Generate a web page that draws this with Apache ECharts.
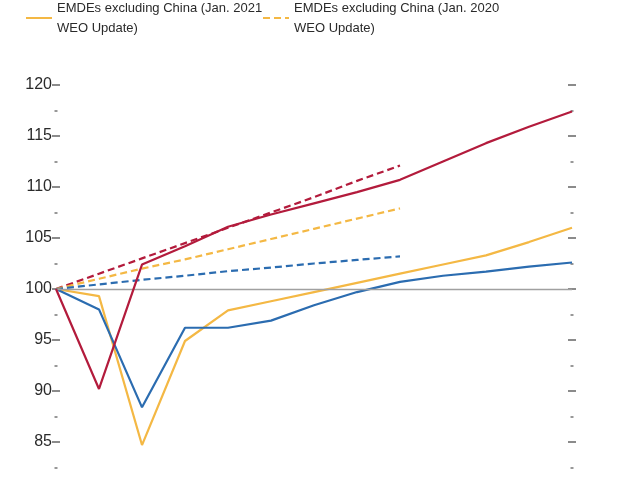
<!DOCTYPE html>
<html>
<head>
<meta charset="utf-8">
<script src="https://cdn.jsdelivr.net/npm/echarts@6/dist/echarts.min.js"></script>
<style>
html,body{margin:0;padding:0;background:#fff;}
#chart{width:620px;height:485px;}
</style>
</head>
<body>
<div id="chart"></div>
<script>
var categories = ['2019:Q4','2020:Q1','2020:Q2','2020:Q3','2020:Q4','2021:Q1','2021:Q2','2021:Q3','2021:Q4','2022:Q1','2022:Q2','2022:Q3','2022:Q4'];
var chinaJan2021 = [100, 90.2, 102.4, 104.2, 106.1, 107.3, 108.4, 109.5, 110.7, 112.5, 114.3, 115.9, 117.4];
var chinaJan2020 = [100, 101.5, 103.0, 104.5, 106.0, 107.5, 109.0, 110.6, 112.1, null, null, null, null];
var emdesJan2021 = [100, 99.3, 84.7, 94.9, 97.9, 98.8, 99.7, 100.6, 101.5, 102.4, 103.3, 104.6, 106.0];
var emdesJan2020 = [100, 101.0, 102.0, 102.9, 103.9, 104.9, 105.9, 106.9, 107.9, null, null, null, null];
var worldJan2021 = [100, 98.0, 88.4, 96.2, 96.2, 96.9, 98.4, 99.7, 100.7, 101.3, 101.7, 102.2, 102.6];
var worldJan2020 = [100, 100.45, 100.9, 101.3, 101.75, 102.1, 102.5, 102.85, 103.2, null, null, null, null];
var yTicks = {min: 80, max: 120, interval: 5};
var legendNames = ['EMDEs excluding China (Jan. 2021\nWEO Update)', 'EMDEs excluding China (Jan. 2020\nWEO Update)'];

var RED = '#b31b3c', BLUE = '#2b6cb0', YELLOW = '#f4b844';
var FONT = "'Liberation Sans', Arial, sans-serif";

function yAx(pos, inside, labels) {
  return {
    type: 'value', position: pos, min: yTicks.min, max: yTicks.max, interval: yTicks.interval,
    axisLine: {show: false},
    splitLine: {show: false},
    axisTick: {show: true, inside: inside, length: 4, lineStyle: {color: '#666', width: 1.5}},
    minorTick: {show: true, splitNumber: 2, length: 1.5, lineStyle: {color: '#777', width: 1.5}},
    minorSplitLine: {show: false},
    axisLabel: {show: labels, color: '#2a2a2a', fontSize: 16, fontFamily: FONT, margin: 4}
  };
}

function line(name, data, color, dashed, z) {
  return {
    name: name, type: 'line', data: data, yAxisIndex: 0, symbol: 'none', showSymbol: false, z: z,
    connectNulls: false,
    lineStyle: {color: color, width: 2.2, type: dashed ? [7, 4] : 'solid'},
    itemStyle: {color: color}
  };
}

var chart = echarts.init(document.getElementById('chart'));
var s = [
  line('China (Jan. 2020 WEO Update)', chinaJan2020, RED, true, 3),
  line(legendNames[1], emdesJan2020, YELLOW, true, 3),
  line('World (Jan. 2020 WEO Update)', worldJan2020, BLUE, true, 3),
  line(legendNames[0], emdesJan2021, YELLOW, false, 4),
  line('World (Jan. 2021 WEO Update)', worldJan2021, BLUE, false, 4),
  line('China (Jan. 2021 WEO Update)', chinaJan2021, RED, false, 5)
];
s[0].markLine = {
  silent: true, symbol: 'none', label: {show: false},
  lineStyle: {color: '#a0a0a0', width: 1.3, type: 'solid'},
  data: [{yAxis: 100}]
};
var legendBase = {top: -2, itemWidth: 26, itemHeight: 12, padding: 0,
  itemStyle: {opacity: 0},
  textStyle: {color: '#2a2a2a', fontSize: 13, fontFamily: FONT, lineHeight: 20}};
chart.setOption({
  animation: false,
  backgroundColor: '#fff',
  grid: {left: 56, right: 48, top: 85, height: 408, containLabel: false, outerBoundsMode: 'none'},
  legend: [
    Object.assign({data: [legendNames[0]], left: 25}, legendBase),
    Object.assign({data: [legendNames[1]], left: 262}, legendBase)
  ],
  xAxis: {
    type: 'category', data: categories, boundaryGap: false,
    axisLine: {show: false}, axisTick: {show: false}, axisLabel: {show: false}, splitLine: {show: false}
  },
  yAxis: [yAx('left', false, true), yAx('left', true, false), yAx('right', false, false), yAx('right', true, false)],
  series: s
});
</script>
</body>
</html>
